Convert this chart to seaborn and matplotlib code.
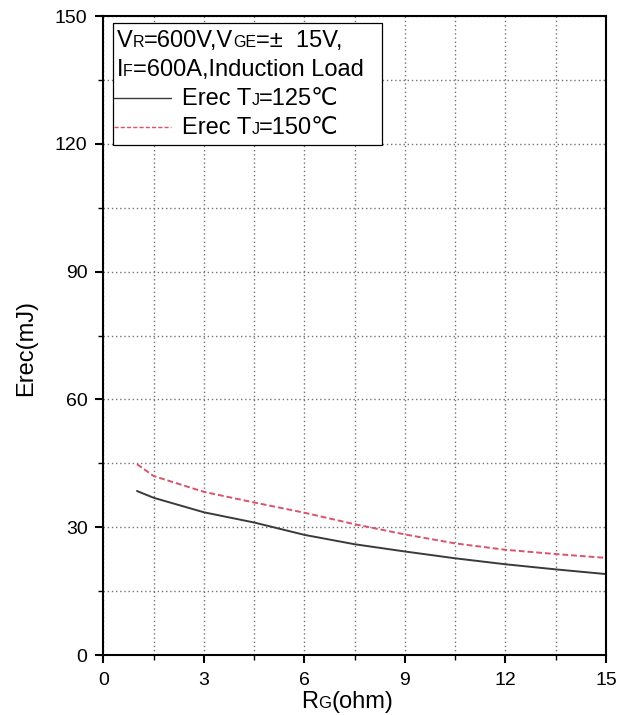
import numpy as np
import pandas as pd
import matplotlib
matplotlib.use("Agg")
import matplotlib.pyplot as plt
import seaborn as sns
from matplotlib.ticker import MultipleLocator
from matplotlib.offsetbox import TextArea, HPacker, VPacker, DrawingArea, AnchoredOffsetbox
from matplotlib.lines import Line2D

# ---- data ----
rg = [1.0, 1.5, 3.0, 4.5, 6.0, 7.5, 9.0, 10.5, 12.0, 13.5, 15.0]
erec_125 = [38.5, 36.9, 33.5, 31.1, 28.2, 26.0, 24.3, 22.7, 21.3, 20.1, 19.0]
erec_150 = [44.8, 42.0, 38.3, 35.8, 33.4, 30.7, 28.3, 26.2, 24.7, 23.7, 22.8]
x_ticks = [0, 3, 6, 9, 12, 15]
y_ticks = [0, 30, 60, 90, 120, 150]

sns.set_style("ticks")
FAM = ["Liberation Sans", "DejaVu Sans"]
plt.rcParams["font.family"] = FAM
plt.rcParams["text.color"] = "black"
plt.rcParams["axes.labelcolor"] = "black"

fig = plt.figure(figsize=(6.26, 7.15), dpi=100)
ax = fig.add_axes([0.1653, 0.0839, 0.8027, 0.8937])

c125 = "#3a3a3a"
c150 = "#d9546b"
df125 = pd.DataFrame({"RG": rg, "Erec": erec_125})
df150 = pd.DataFrame({"RG": rg, "Erec": erec_150})
sns.lineplot(data=df125, x="RG", y="Erec", ax=ax, color=c125, lw=1.4)
sns.lineplot(data=df150, x="RG", y="Erec", ax=ax, color=c150, lw=1.4,
             linestyle=(0, (3, 1.5)))

ax.set_xlim(0, 15)
ax.set_ylim(0, 150)
ax.set_xticks(x_ticks)
ax.set_yticks(y_ticks)
ax.xaxis.set_minor_locator(MultipleLocator(1.5))
ax.yaxis.set_minor_locator(MultipleLocator(15))
ax.tick_params(which="major", direction="out", length=6, width=1.5, labelsize=14,
               colors="black")
ax.tick_params(axis="y", which="major", pad=5.5)
ax.tick_params(axis="x", which="major", pad=6.5)
ax.tick_params(which="minor", direction="out", length=3.5, width=1.0, colors="black")
for s in ax.spines.values():
    s.set_visible(True)
    s.set_linewidth(1.5)
    s.set_color("black")
ax.set_axisbelow(True)
ax.grid(which="both", linestyle=(0, (1, 2)), color="0.45", lw=1.0)

# axis labels
ax.set_xlabel("")
ax.set_ylabel("Erec(mJ)", fontsize=17, color="black")
ax.yaxis.set_label_coords(-0.132, 0.48)
xl = HPacker(children=[TextArea("R", textprops=dict(fontsize=17, family=FAM, color="black")),
                       TextArea("G", textprops=dict(fontsize=12, family=FAM, color="black")),
                       TextArea("(ohm)", textprops=dict(fontsize=17, family=FAM, color="black"))],
             align="baseline", pad=0, sep=0)
xab = AnchoredOffsetbox(loc="upper center", child=xl, pad=0, borderpad=0, frameon=False,
                        bbox_to_anchor=(0.485, -0.056), bbox_transform=ax.transAxes)
ax.add_artist(xab)

# legend box
BIG, SMALL = 17, 11.5


def ta(t, fs):
    return TextArea(t, textprops=dict(fontsize=fs, family=FAM, color="black"))


def row(parts, lead=None):
    kids = []
    if lead is not None:
        kids.append(lead)
    kids += [ta(t, fs) for t, fs in parts]
    return HPacker(children=kids, align="baseline", pad=0, sep=0)


def handle(color, ls):
    da = DrawingArea(41, 10, 0, 0)
    da.add_artist(Line2D([0, 41], [5.5, 5.5], color=color, lw=1.0, linestyle=ls))
    return da


def gap(w, h=1):
    return DrawingArea(w, h, 0, 0)


r1 = row([("V", BIG), ("R", SMALL), ("=600V,V", BIG), ("GE", SMALL), ("=±  15V,", BIG)], lead=gap(2.0))
r2 = row([("I", BIG), ("F", SMALL), ("=600A,Induction Load", BIG)], lead=gap(2.0))
r2 = HPacker(children=[r2, gap(12)], align="baseline", pad=0, sep=0)
r3 = row([("Erec T", BIG), ("J", SMALL), ("=125℃", BIG)],
         lead=HPacker(children=[handle(c125, "-"), gap(8.0)], pad=0, sep=0, align="baseline"))
r4 = row([("Erec T", BIG), ("J", SMALL), ("=150℃", BIG)],
         lead=HPacker(children=[handle(c150, (0, (3, 1.5))), gap(8.0)], pad=0, sep=0, align="baseline"))
rows = VPacker(children=[r1, r2, r3, r4], align="left", pad=0, sep=5.0)
vp = VPacker(children=[gap(1, 4.5), rows, gap(1, 3.0)], align="left", pad=0, sep=0)
box = AnchoredOffsetbox(loc="upper left", child=vp, pad=0.1, borderpad=0, frameon=True,
                        bbox_to_anchor=(0.018, 0.9895), bbox_transform=ax.transAxes)
box.patch.set_boxstyle("square,pad=0")
box.patch.set_edgecolor("black")
box.patch.set_linewidth(0.9)
ax.add_artist(box)

fig.savefig("out.png", dpi=100)
